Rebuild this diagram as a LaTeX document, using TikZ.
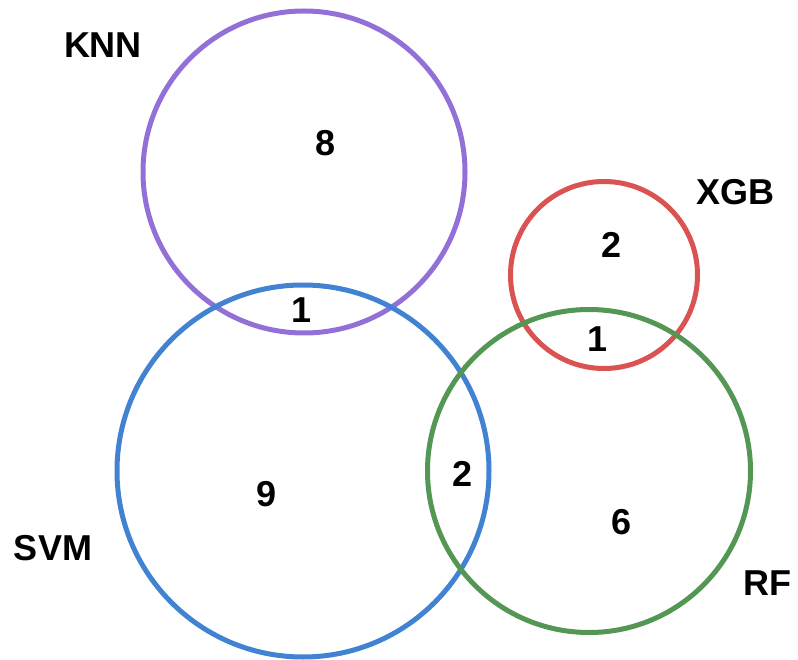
\documentclass[tikz,border=0pt]{standalone}
\usepackage{fontspec}
\setmainfont{Liberation Sans}
\usepackage{pgf, tikz}
\definecolor{knncolor}{RGB}{146,112,216}
\definecolor{svmcolor}{RGB}{66,130,210}
\definecolor{xgbcolor}{RGB}{218,82,82}
\definecolor{rfcolor}{RGB}{84,150,84}
\tikzset{
    setnode/.style={
        circle,
        line width=5pt, % 圆圈线宽
        inner sep=0
    },
    countnode/.style={
        inner sep=0,
        font=\bf\fontsize{36}{40}\selectfont
    },
    namenode/.style={
        inner sep=0,
        font=\bf\fontsize{36}{40}\selectfont
    }
}

\begin{document}
\begin{tikzpicture}[x=1pt, y=-1pt]
            \useasboundingbox (0,0) rectangle (798,660);
            % 四个集合
            \node[setnode, draw=knncolor, minimum size=322pt] (knn) at (304,172) {};
            \node[setnode, draw=svmcolor, minimum size=372pt] (svm) at (303,471) {};
            \node[setnode, draw=xgbcolor, minimum size=187pt] (xgb) at (604,275) {};
            \node[setnode, draw=rfcolor, minimum size=323pt] (rf) at (589,471) {};
            % 集合名称
            \node[namenode] (knnname) at (103,45) {KNN};
            \node[namenode] (xgbname) at (735,192) {XGB};
            \node[namenode] (svmname) at (53,548) {SVM};
            \node[namenode] (rfname) at (767,583) {RF};
            % 各区域的数量
            \node[countnode] (knnonly) at (326,143) {8};
            \node[countnode] (knnsvm) at (302,310) {1};
            \node[countnode] (svmonly) at (267,494) {9};
            \node[countnode] (svmrf) at (463,474) {2};
            \node[countnode] (xgbonly) at (612,245) {2};
            \node[countnode] (xgbrf) at (598,339) {1};
            \node[countnode] (rfonly) at (622,522) {6};
\end{tikzpicture}
\end{document}
